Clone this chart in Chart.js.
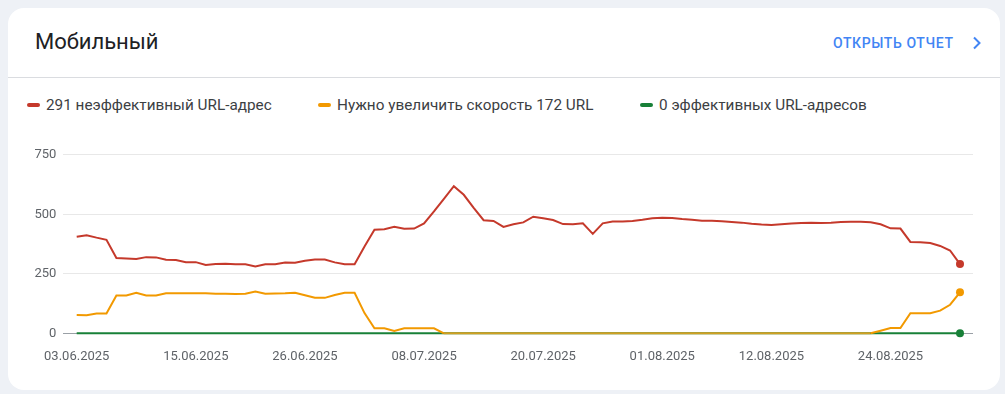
<!DOCTYPE html>
<html lang="ru">
<head>
<meta charset="utf-8">
<script src="https://cdn.jsdelivr.net/npm/chart.js@4.4.1/dist/chart.umd.min.js"></script>
<style>
  html, body { margin: 0; padding: 0; }
  body { width: 1005px; height: 394px; background: #eef1f6; font-family: Roboto, "Noto Sans", sans-serif; position: relative; overflow: hidden; }
  .card { position: absolute; left: 8px; top: 8px; width: 992px; height: 382px; background: #fff; border-radius: 16px; }
  .title { position: absolute; left: 27px; top: 21px; font-size: 22px; color: #202124; }
  .link { position: absolute; left: 825px; top: 27px; font-size: 14px; font-weight: 500; color: #4285f4; letter-spacing: 0.6px; }
  .link svg { position: absolute; left: 138px; top: 1px; }
  .divider { position: absolute; left: 0; right: 0; top: 69px; height: 1px; background: #dadce0; }
  .legend { position: absolute; top: 88px; left: 19px; font-size: 15.3px; color: #3c4043; }
  .legend span { position: absolute; white-space: nowrap; }
  .legend i { display: inline-block; width: 13px; height: 4px; border-radius: 2px; vertical-align: middle; margin-right: 6px; position: relative; top: -1px; }
  .plot { position: absolute; left: 0; top: 140px; width: 1005px; height: 240px; }
</style>
</head>
<body>
<div class="card">
  <div class="title">Мобильный</div>
  <div class="link">ОТКРЫТЬ ОТЧЕТ<svg width="12" height="14" viewBox="0 0 12 14"><path d="M3 1.5 L8.5 7 L3 12.5" fill="none" stroke="#4285f4" stroke-width="2"/></svg></div>
  <div class="divider"></div>
  <div class="legend">
    <span style="left:0"><i style="background:#c5392b"></i>291 неэффективный URL-адрес</span>
    <span style="left:291px"><i style="background:#f29900"></i>Нужно увеличить скорость 172 URL</span>
    <span style="left:613px"><i style="background:#188038"></i>0 эффективных URL-адресов</span>
  </div>
</div>
<div class="plot"><canvas id="chart"></canvas></div>
<script>
// 90 days, 03.06.2025 - 31.08.2025
const dates = [];
for (let i = 0; i < 90; i++) {
  const d = new Date(Date.UTC(2025, 5, 3 + i));
  dates.push(String(d.getUTCDate()).padStart(2, '0') + '.' + String(d.getUTCMonth() + 1).padStart(2, '0') + '.' + d.getUTCFullYear());
}

const tickLabels = ['03.06.2025', '15.06.2025', '26.06.2025', '08.07.2025', '20.07.2025', '01.08.2025', '12.08.2025', '24.08.2025'];
const yTicks = [0, 250, 500, 750];

const poor = [
  406, 412, 402, 393, 316, 314, 312, 320, 319, 309,
  308, 299, 299, 287, 291, 292, 290, 290, 281, 290,
  290, 297, 296, 305, 310, 310, 298, 290, 290, 365,
  435, 437, 448, 439, 440, 462, 512, 565, 618, 582,
  527, 475, 472, 447, 458, 466, 490, 483, 476, 459,
  458, 462, 418, 462, 470, 470, 472, 477, 483, 485,
  484, 480, 477, 473, 473, 471, 468, 465, 460, 457,
  455, 458, 461, 463, 465, 463, 465, 468, 469, 469,
  467, 458, 441, 440, 384, 383, 379, 367, 348, 291
];
const needsWork = [
  77, 76, 83, 83, 159, 159, 170, 159, 159, 168,
  168, 168, 168, 168, 166, 166, 165, 166, 176, 166,
  167, 168, 170, 160, 149, 149, 161, 170, 170, 85,
  21, 21, 10, 21, 21, 21, 21, 0, 0, 0,
  0, 0, 0, 0, 0, 0, 0, 0, 0, 0,
  0, 0, 0, 0, 0, 0, 0, 0, 0, 0,
  0, 0, 0, 0, 0, 0, 0, 0, 0, 0,
  0, 0, 0, 0, 0, 0, 0, 0, 0, 0,
  0, 11, 22, 22, 84, 84, 84, 95, 120, 172
];
const good = [
  0, 0, 0, 0, 0, 0, 0, 0, 0, 0,
  0, 0, 0, 0, 0, 0, 0, 0, 0, 0,
  0, 0, 0, 0, 0, 0, 0, 0, 0, 0,
  0, 0, 0, 0, 0, 0, 0, 0, 0, 0,
  0, 0, 0, 0, 0, 0, 0, 0, 0, 0,
  0, 0, 0, 0, 0, 0, 0, 0, 0, 0,
  0, 0, 0, 0, 0, 0, 0, 0, 0, 0,
  0, 0, 0, 0, 0, 0, 0, 0, 0, 0,
  0, 0, 0, 0, 0, 0, 0, 0, 0, 0
];

const last = dates.length - 1;
const toPoints = (arr) => arr.map((v, i) => ({ x: i, y: v }));
const endDot = (ctx) => (ctx.dataIndex === last ? 4 : 0);

function series(label, values, color, extra) {
  return Object.assign({
    label,
    data: toPoints(values),
    borderColor: color,
    backgroundColor: color,
    borderWidth: 2,
    tension: 0,
    pointRadius: endDot,
    pointBorderWidth: 0,
    clip: false,
  }, extra || {});
}

const tickFont = { family: 'Roboto', size: 13 };

new Chart(document.getElementById('chart'), {
  type: 'line',
  data: {
    datasets: [
      series('291 неэффективный URL-адрес', poor, '#c5392b'),
      series('Нужно увеличить скорость 172 URL', needsWork, '#f29900', {
        segment: {
          // where it lies on the green zero line the two colours mix
          borderColor: (ctx) => (ctx.p0.parsed.y === 0 && ctx.p1.parsed.y === 0 ? '#d29f22' : undefined),
        },
      }),
      series('0 эффективных URL-адресов', good, '#188038'),
    ],
  },
  options: {
    responsive: true,
    maintainAspectRatio: false,
    animation: false,
    layout: { padding: { top: 12, right: 32, left: 0, bottom: 0 } },
    plugins: { legend: { display: false }, tooltip: { enabled: false } },
    scales: {
      x: {
        type: 'linear',
        min: -1.35,
        max: 90.31,
        grid: { display: false, drawTicks: false },
        border: { display: false },
        afterBuildTicks: (scale) => {
          scale.ticks = tickLabels.map((l) => ({ value: dates.indexOf(l) }));
        },
        afterFit: (scale) => { scale.height = 46.7; },
        ticks: {
          autoSkip: false,
          maxRotation: 0,
          padding: 16,
          color: '#5f6368',
          font: tickFont,
          callback: (v) => dates[v],
        },
      },
      y: {
        min: 0,
        max: 750,
        grid: {
          drawTicks: false,
          color: (ctx) => (ctx.tick && ctx.tick.value === 0 ? '#9aa0a6' : '#e8e8e8'),
        },
        border: { display: false },
        afterBuildTicks: (scale) => {
          scale.ticks = yTicks.map((v) => ({ value: v }));
        },
        afterFit: (scale) => { scale.width = 63.3; },
        ticks: { padding: 7, color: '#5f6368', font: tickFont },
      },
    },
  },
});
</script>
</body>
</html>
